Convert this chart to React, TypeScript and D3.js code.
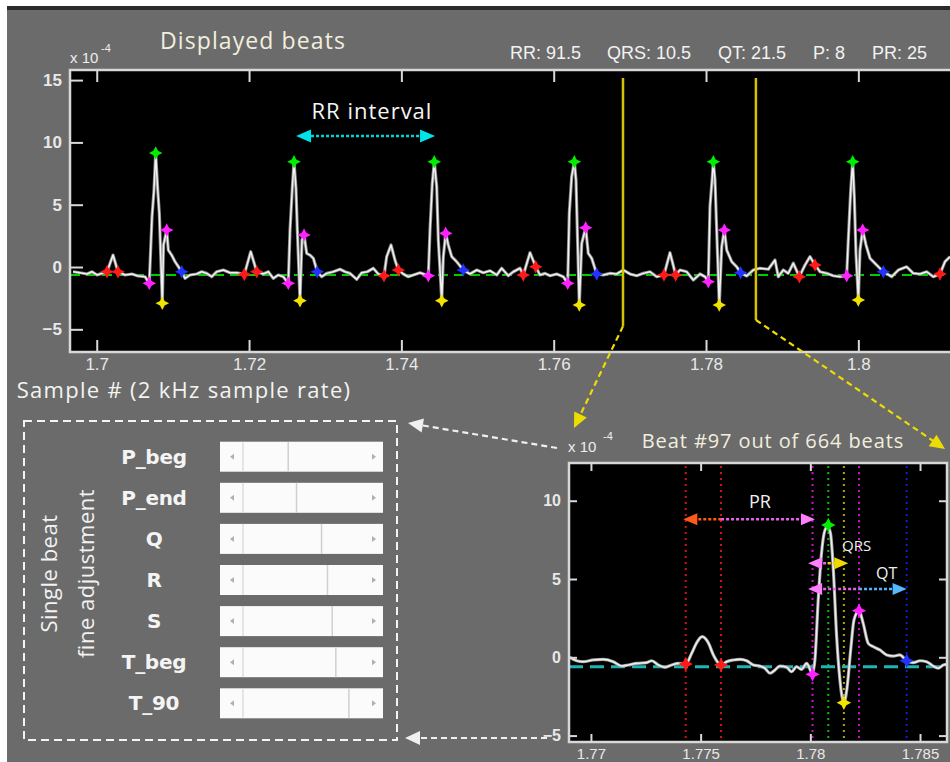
import * as d3 from "d3";
import { useRef, useEffect } from "react";

// ---------- data ----------
// displayed beats: [sample #, amplitude (x 1e-4)]
const displayedTrace = [
  [169689, -0.38], [169780, -0.46], [169872, -0.56], [169938, -0.38], [170004, -0.64], [170069, -0.51],
  [170135, -0.38], [170214, 0.96], [170279, -0.38], [170371, -0.64], [170463, -0.56], [170542, -0.72],
  [170634, -0.78], [170690, -1.31], [170726, 4.04], [170752, 6.18], [170774, 9.15], [170801, 6.18],
  [170822, 4.31], [170861, -2.91], [170877, 1.77], [170919, 2.97], [170940, 1.36], [170984, 0.96],
  [171028, 0.43], [171116, -0.38], [171159, -0.91], [171225, -0.64], [171313, -0.56], [171378, -0.38],
  [171444, -0.51], [171510, -0.78], [171575, -0.38], [171662, -0.24], [171750, -0.46], [171838, -0.46],
  [171938, -0.59], [172022, 1.23], [172101, -0.38], [172187, -0.56], [172253, -0.38], [172318, -0.91],
  [172384, -0.64], [172450, -0.78], [172515, -1.31], [172538, 2.97], [172568, 6.34], [172590, 8.45],
  [172616, 6.34], [172634, 2.97], [172669, -2.7], [172695, 2.17], [172722, 2.57], [172757, 1.1],
  [172800, 0.96], [172844, 0.7], [172896, -0.38], [172954, -0.78], [173020, -0.51], [173106, -0.38],
  [173194, -0.18], [173260, -0.38], [173326, -0.51], [173414, -0.99], [173479, -0.46], [173553, -0.38],
  [173631, -0.1], [173697, -0.56], [173772, -0.7], [173807, 0.83], [173864, 1.77], [173916, 0.56],
  [173960, -0.24], [174025, -0.56], [174091, -0.78], [174157, -0.64], [174245, -0.46], [174354, -0.7],
  [174376, 2.97], [174406, 6.72], [174432, 8.45], [174464, 6.44], [174485, 2.17], [174530, -2.7],
  [174551, 0.83], [174582, 2.7], [174616, 1.77], [174661, 0.83], [174726, 0.43], [174813, -0.24],
  [174901, -0.56], [174989, -0.24], [175076, -0.46], [175164, -0.3], [175252, -0.64], [175317, -0.1],
  [175404, -0.7], [175470, -0.38], [175558, -0.1], [175601, -0.64], [175689, 1.15], [175764, 0.02],
  [175820, -0.64], [175886, -0.51], [175952, -0.7], [176040, -0.56], [176126, -0.78], [176184, -1.31],
  [176205, 4.31], [176236, 7.25], [176271, 8.45], [176293, 6.98], [176310, 2.97], [176336, -3.05],
  [176368, 1.9], [176420, 3.15], [176454, 1.1], [176499, 0.7], [176565, -0.56], [176651, -0.64],
  [176739, -0.51], [176827, -0.56], [176914, -0.24], [177002, -0.56], [177090, -0.7], [177176, -0.51],
  [177264, -0.38], [177352, -0.78], [177448, -0.64], [177527, 1.15], [177602, -0.64], [177658, -0.24],
  [177746, -0.38], [177833, -1.04], [177921, -0.56], [177987, -0.78], [178030, -1.18], [178052, 4.84],
  [178083, 7.25], [178096, 8.45], [178118, 6.98], [178140, 2.97], [178174, -3.05], [178206, 1.63],
  [178240, 2.97], [178272, 1.36], [178337, 0.43], [178403, 0.02], [178455, -0.46], [178534, -0.72],
  [178621, -0.24], [178709, -0.1], [178818, -0.18], [178906, 0.56], [178949, -0.78], [179015, -0.24],
  [179080, -0.51], [179146, 0.3], [179225, -0.78], [179300, 0.16], [179365, 0.83], [179431, 0.16],
  [179497, -0.38], [179585, -0.51], [179671, -0.7], [179759, -0.78], [179847, -0.7], [179868, 2.17],
  [179900, 6.18], [179926, 8.45], [179947, 5.64], [179969, 1.1], [180000, -2.65], [180022, 1.36],
  [180057, 2.97], [180101, 1.77], [180153, 0.7], [180241, 0.16], [180328, -0.38], [180438, -0.78],
  [180525, -0.24], [180635, 0.02], [180722, -0.51], [180810, -0.56], [180898, -0.38], [180984, -0.78],
  [181072, -0.56], [181138, 0.43], [181204, 0.83],
];

// fiducial points found on the displayed beats
const pPoints = [
  [170135, -0.38], [170279, -0.38], [171938, -0.59], [172101, -0.38], [173772, -0.7], [173960, -0.24],
  [175601, -0.64], [175764, 0.02], [177448, -0.64], [177602, -0.64], [179225, -0.78], [179431, 0.16],
  [181072, -0.56],
];
const qPoints = [[170690, -1.31], [172515, -1.31], [174354, -0.7], [176184, -1.31], [178030, -1.18], [179847, -0.7]];
const rPoints = [[170774, 9.15], [172590, 8.45], [174432, 8.45], [176271, 8.45], [178096, 8.45], [179926, 8.45]];
const sPoints = [[170861, -2.91], [172669, -2.7], [174530, -2.7], [176336, -3.05], [178174, -3.05], [180000, -2.65]];
const tPoints = [[170919, 2.97], [172722, 2.57], [174582, 2.7], [176420, 3.15], [178240, 2.97], [180057, 2.97]];
const tEndPoints = [[171116, -0.38], [172896, -0.38], [174813, -0.24], [176565, -0.56], [178455, -0.46], [180328, -0.38]];
const topBaseline = -0.65;

const topXTicks = [170000, 172000, 174000, 176000, 178000, 180000];
const topXTickLabels = ["1.7", "1.72", "1.74", "1.76", "1.78", "1.8"];
const topYTicks = [-5, 0, 5, 10, 15];

// RR interval annotation: from, to, level
const rrArrow = [172617, 174442, 10.51];
const rrLabel = [173614, 11.88];
// beat shown below (yellow cursors) and where the cursor lines stop
const beatWindow = [176910, 178655];
const cursorBottom = [-4.75, -4.25];

const statLabels = ["RR: 91.5", "QRS: 10.5", "QT: 21.5", "P: 8", "PR: 25"];

// beat #97 in detail
const beatTrace = [
  [176904, 0.0], [176935, -0.22], [176965, -0.28], [177011, -0.17], [177056, -0.13], [177102, -0.28],
  [177140, -0.56], [177170, -0.49], [177208, -0.39], [177254, -0.34], [177277, -0.22], [177307, -0.49],
  [177337, -0.64], [177368, -0.49], [177398, -0.39], [177432, -0.43], [177459, 0.25], [177482, 0.93],
  [177507, 1.32], [177535, 0.93], [177558, 0.15], [177593, -0.49], [177618, -0.28], [177649, -0.17],
  [177679, -0.13], [177710, -0.22], [177740, -0.49], [177770, -0.56], [177793, -0.7], [177816, -1.02],
  [177839, -0.81], [177861, -0.56], [177892, -0.64], [177915, -0.92], [177937, -0.6], [177960, -0.77],
  [177983, -0.39], [178010, -1.02], [178021, -0.17], [178036, 3.66], [178051, 6.64], [178067, 8.13],
  [178079, 8.34], [178092, 7.92], [178105, 5.57], [178120, 1.32], [178135, -1.45], [178153, -2.9],
  [178168, -1.88], [178184, 0.47], [178199, 2.38], [178222, 2.98], [178241, 2.17], [178264, 0.89],
  [178287, 0.68], [178317, 0.47], [178348, 0.15], [178378, 0.08], [178408, 0.15], [178439, -0.22],
  [178469, -0.34], [178500, -0.22], [178530, -0.28], [178560, -0.56], [178583, -0.7], [178606, -0.49],
  [178624, -0.45],
];
const beatP = [[177432, -0.43], [177593, -0.49]];
const beatQ = [[178010, -1.09]];
const beatR = [[178082, 8.45]];
const beatS = [[178153, -2.9]];
const beatT = [[178222, 2.98]];
const beatTEnd = [[178439, -0.22]];
const beatBaseline = -0.6;

const lowXTicks = [177000, 177500, 178000, 178500];
const lowXTickLabels = ["1.77", "1.775", "1.78", "1.785"];
const lowYTicks = [-5, 0, 5, 10];

// interval arrows in the beat view: from, split, to, level
const prArrow = [177421, 177593, 178021, 8.81];
const qrsArrow = [177990, 178080, 178173, 6.0];
const qtArrow = [177990, 178222, 178439, 4.36];
const prLabel = [177770, 9.53];
const qrsLabel = [178211, 6.79];
const qtLabel = [178348, 5.0];

const sliderNames = ["P_beg", "P_end", "Q", "R", "S", "T_beg", "T_90"];
const sliderValues = [0.38, 0.45, 0.66, 0.71, 0.75, 0.78, 0.89];

const BG = "#6b6b6b";
const CREAM = "#f2efdf";
const LINE = "#d8d8d8";
const TICKFONT = "Liberation Sans, Arial, sans-serif";
const TEXTFONT = "Open Sans, sans-serif";

// 4-point star marker like the MATLAB plot
const star4 = {
  draw(ctx, size) {
    const r = Math.sqrt(size);
    const k = r * 0.34;
    ctx.moveTo(0, -r);
    ctx.lineTo(k, -k);
    ctx.lineTo(r, 0);
    ctx.lineTo(k, k);
    ctx.lineTo(0, r);
    ctx.lineTo(-k, k);
    ctx.lineTo(-r, 0);
    ctx.lineTo(-k, -k);
    ctx.closePath();
  },
};

function head(g, x1, y1, x2, y2, len, half, color) {
  const d = Math.hypot(x2 - x1, y2 - y1);
  const ux = (x2 - x1) / d, uy = (y2 - y1) / d;
  const bx = x2 - ux * len, by = y2 - uy * len;
  g.append("path")
    .attr("d", `M${x2},${y2}L${bx - uy * half},${by + ux * half}L${bx + uy * half},${by - ux * half}Z`)
    .attr("fill", color);
}

function App() {
  const svgRef = useRef(null);

  useEffect(() => {
    const svg = d3.select(svgRef.current);
    svg.selectAll("*").remove();

    svg.append("rect").attr("width", 950).attr("height", 762).attr("fill", "#fff");
    svg.append("rect").attr("x", 7).attr("y", 7).attr("width", 943).attr("height", 755).attr("fill", BG);
    svg.append("rect").attr("x", 7).attr("y", 6).attr("width", 943).attr("height", 4).attr("fill", "#2b2b2b");

    const defs = svg.append("defs");

    // ===== top panel: displayed beats =====
    const xTop = d3.scaleLinear().domain([169649, 181860]).range([70, 1000]);
    const yTop = d3.scaleLinear().domain([-6.82, 15.81]).range([352, 70]);
    const [tx0, tx1] = xTop.range();
    const [ty0, ty1] = [yTop.range()[1], yTop.range()[0]];

    defs.append("clipPath").attr("id", "clipTop")
      .append("rect").attr("x", tx0).attr("y", ty0).attr("width", tx1 - tx0).attr("height", ty1 - ty0);

    const top = svg.append("g");
    top.append("rect").attr("x", tx0).attr("y", ty0).attr("width", tx1 - tx0).attr("height", ty1 - ty0).attr("fill", "#000");
    const topIn = top.append("g").attr("clip-path", "url(#clipTop)");

    topIn.append("line")
      .attr("x1", tx0).attr("x2", tx1).attr("y1", yTop(topBaseline)).attr("y2", yTop(topBaseline))
      .attr("stroke", "#00cc00").attr("stroke-width", 2).attr("stroke-dasharray", "10 6");

    const lineTop = d3.line().x((d) => xTop(d[0])).y((d) => yTop(d[1]));
    topIn.append("path").attr("d", lineTop(displayedTrace)).attr("fill", "none")
      .attr("stroke", "#8a8a8a").attr("stroke-width", 3.2).attr("stroke-linejoin", "round");
    topIn.append("path").attr("d", lineTop(displayedTrace)).attr("fill", "none")
      .attr("stroke", "#f2f2f2").attr("stroke-width", 1.5).attr("stroke-linejoin", "round");

    const sym = d3.symbol().type(star4).size(46);
    const markerSets = [
      [pPoints, "#ff1a1a"], [qPoints, "#ff22ff"], [rPoints, "#00ee00"],
      [sPoints, "#f2e200"], [tPoints, "#ff22ff"], [tEndPoints, "#2233ff"],
    ];
    markerSets.forEach(([pts, color]) => {
      topIn.append("g").selectAll("path").data(pts).join("path")
        .attr("d", sym)
        .attr("transform", (d) => `translate(${xTop(d[0])},${yTop(d[1])})`)
        .attr("fill", color);
    });

    // RR interval arrow
    const rrY = yTop(rrArrow[2]);
    topIn.append("line")
      .attr("x1", xTop(rrArrow[0]) + 10).attr("x2", xTop(rrArrow[1]) - 10).attr("y1", rrY).attr("y2", rrY)
      .attr("stroke", "#00d8d8").attr("stroke-width", 2.5).attr("stroke-dasharray", "3 2");
    head(topIn, xTop(rrArrow[1]), rrY, xTop(rrArrow[0]), rrY, 15, 6.5, "#00e4e8");
    head(topIn, xTop(rrArrow[0]), rrY, xTop(rrArrow[1]), rrY, 15, 6.5, "#00e4e8");
    topIn.append("text").attr("x", xTop(rrLabel[0])).attr("y", yTop(rrLabel[1]))
      .attr("text-anchor", "middle").attr("fill", "#f5f5f5")
      .attr("font-family", TEXTFONT).attr("font-size", 22).attr("letter-spacing", 1).text("RR interval");

    // axes frame + ticks
    const styleAxis = (g, size) => {
      g.select(".domain").remove();
      g.selectAll("line").attr("stroke", LINE).attr("stroke-width", 2);
      g.selectAll("text").attr("fill", "#e8e8e8").attr("font-family", TICKFONT).attr("font-size", size);
    };
    const tb = top.append("g").attr("transform", `translate(0,${ty1})`)
      .call(d3.axisBottom(xTop).tickValues(topXTicks).tickFormat((d, i) => topXTickLabels[i]).tickSize(-12).tickSizeOuter(0).tickPadding(6));
    styleAxis(tb, 17);
    const tt = top.append("g").attr("transform", `translate(0,${ty0})`)
      .call(d3.axisTop(xTop).tickValues(topXTicks).tickFormat(() => "").tickSize(-12).tickSizeOuter(0));
    styleAxis(tt, 17);
    const tl = top.append("g").attr("transform", `translate(${tx0},0)`)
      .call(d3.axisLeft(yTop).tickValues(topYTicks).tickSize(-13).tickSizeOuter(0).tickPadding(8));
    styleAxis(tl, 17);
    tl.selectAll("text").attr("font-weight", "bold");
    top.append("path").attr("d", `M${tx1},${ty0}H${tx0}V${ty1}H${tx1}`)
      .attr("fill", "none").attr("stroke", LINE).attr("stroke-width", 2.5);

    // beat cursors (yellow)
    beatWindow.forEach((s, i) => {
      top.append("line")
        .attr("x1", xTop(s)).attr("x2", xTop(s))
        .attr("y1", yTop(15.17)).attr("y2", yTop(cursorBottom[i]))
        .attr("stroke", "#d6c200").attr("stroke-width", 2.5);
    });

    // scale exponent + titles
    svg.append("text").attr("x", 70).attr("y", 63).attr("fill", "#eee")
      .attr("font-family", TICKFONT).attr("font-size", 15).text("x 10");
    svg.append("text").attr("x", 101).attr("y", 52).attr("fill", "#eee")
      .attr("font-family", TICKFONT).attr("font-size", 11).text("-4");
    svg.append("text").attr("x", 253).attr("y", 49).attr("text-anchor", "middle").attr("fill", CREAM)
      .attr("font-family", TEXTFONT).attr("font-size", 23).attr("letter-spacing", 1.1).text("Displayed beats");
    const statX = [510, 607, 718, 813, 872];
    statLabels.forEach((s, i) => {
      svg.append("text").attr("x", statX[i]).attr("y", 59).attr("fill", "#f2f2f2")
        .attr("font-family", TICKFONT).attr("font-size", 18).text(s);
    });
    svg.append("text").attr("x", 184).attr("y", 398).attr("text-anchor", "middle").attr("fill", "#f4f4f0")
      .attr("font-family", TEXTFONT).attr("font-size", 22).attr("letter-spacing", 1.3)
      .text("Sample # (2 kHz sample rate)");

    // ===== lower panel: single beat =====
    const xLow = d3.scaleLinear().domain([176900, 178623]).range([569, 947]);
    const yLow = d3.scaleLinear().domain([-5.41, 12.41]).range([742, 463]);
    const [lx0, lx1] = xLow.range();
    const [ly0, ly1] = [yLow.range()[1], yLow.range()[0]];

    defs.append("clipPath").attr("id", "clipLow")
      .append("rect").attr("x", lx0).attr("y", ly0).attr("width", lx1 - lx0).attr("height", ly1 - ly0);

    const low = svg.append("g");
    low.append("rect").attr("x", lx0).attr("y", ly0).attr("width", lx1 - lx0).attr("height", ly1 - ly0).attr("fill", "#000");
    const lowIn = low.append("g").attr("clip-path", "url(#clipLow)");

    const vlines = [
      [beatP, "#d01414"], [beatQ, "#c414c4"], [beatR, "#14b414"],
      [beatS, "#b4a400"], [beatT, "#c414c4"], [beatTEnd, "#1818d8"],
    ];
    vlines.forEach(([pts, color]) => {
      lowIn.append("g").selectAll("line").data(pts).join("line")
        .attr("x1", (d) => xLow(d[0])).attr("x2", (d) => xLow(d[0]))
        .attr("y1", ly0 + 3).attr("y2", ly1)
        .attr("stroke", color).attr("stroke-width", 2).attr("stroke-dasharray", "2 4");
    });

    lowIn.append("line")
      .attr("x1", lx0).attr("x2", lx1).attr("y1", yLow(beatBaseline)).attr("y2", yLow(beatBaseline))
      .attr("stroke", "#1cb4b4").attr("stroke-width", 3).attr("stroke-dasharray", "14 7");

    const lineLow = d3.line().x((d) => xLow(d[0])).y((d) => yLow(d[1])).curve(d3.curveMonotoneX);
    lowIn.append("path").attr("d", lineLow(beatTrace)).attr("fill", "none")
      .attr("stroke", "#9a9a9a").attr("stroke-width", 3.2);
    lowIn.append("path").attr("d", lineLow(beatTrace)).attr("fill", "none")
      .attr("stroke", "#eeeeee").attr("stroke-width", 1.6);

    const symL = d3.symbol().type(star4).size(52);
    const lowMarkers = [
      [beatP, "#ff1a1a"], [beatQ, "#ff22ff"], [beatR, "#00ee00"],
      [beatS, "#f2e200"], [beatT, "#ff22ff"], [beatTEnd, "#2233ff"],
    ];
    lowMarkers.forEach(([pts, color]) => {
      lowIn.append("g").selectAll("path").data(pts).join("path")
        .attr("d", symL)
        .attr("transform", (d) => `translate(${xLow(d[0])},${yLow(d[1])})`)
        .attr("fill", color);
    });

    // interval arrows
    const intervalArrow = (a, cLeft, cRight, headL, headR) => {
      const y = yLow(a[3]);
      const xa = xLow(a[0]), xm = xLow(a[1]), xb = xLow(a[2]);
      lowIn.append("line").attr("x1", xa + 10).attr("x2", xm).attr("y1", y).attr("y2", y)
        .attr("stroke", cLeft).attr("stroke-width", 2.5).attr("stroke-dasharray", "3 2");
      lowIn.append("line").attr("x1", xm).attr("x2", xb - 10).attr("y1", y).attr("y2", y)
        .attr("stroke", cRight).attr("stroke-width", 2.5).attr("stroke-dasharray", "3 2");
      head(lowIn, xb, y, xa, y, 14, 6, headL);
      head(lowIn, xa, y, xb, y, 14, 6, headR);
    };
    intervalArrow(prArrow, "#ff5a1a", "#e860e8", "#ff5a1a", "#ff80ff");
    intervalArrow(qrsArrow, "#e860e8", "#e8d000", "#ff80ff", "#f0d800");
    intervalArrow(qtArrow, "#e860e8", "#50b4ff", "#ff80ff", "#58b8ff");

    const label = (p, txt, size) => {
      lowIn.append("text").attr("x", xLow(p[0])).attr("y", yLow(p[1]))
        .attr("text-anchor", "middle").attr("fill", "#f0f0f0")
        .attr("font-family", TEXTFONT).attr("font-size", size).text(txt);
    };
    label(prLabel, "PR", 18);
    label(qrsLabel, "QRS", 15);
    label(qtLabel, "QT", 16);

    const lb = low.append("g").attr("transform", `translate(0,${ly1})`)
      .call(d3.axisBottom(xLow).tickValues(lowXTicks).tickFormat((d, i) => lowXTickLabels[i]).tickSize(-8).tickSizeOuter(0).tickPadding(6));
    styleAxis(lb, 15);
    const lt = low.append("g").attr("transform", `translate(0,${ly0})`)
      .call(d3.axisTop(xLow).tickValues(lowXTicks).tickFormat(() => "").tickSize(-8).tickSizeOuter(0));
    styleAxis(lt, 15);
    const ll = low.append("g").attr("transform", `translate(${lx0},0)`)
      .call(d3.axisLeft(yLow).tickValues(lowYTicks).tickSize(-8).tickSizeOuter(0).tickPadding(8));
    styleAxis(ll, 16);
    ll.selectAll("text").attr("font-weight", "bold");
    const lr = low.append("g").attr("transform", `translate(${lx1},0)`)
      .call(d3.axisRight(yLow).tickValues(lowYTicks).tickFormat(() => "").tickSize(-8).tickSizeOuter(0));
    styleAxis(lr, 16);
    low.append("rect").attr("x", lx0).attr("y", ly0).attr("width", lx1 - lx0).attr("height", ly1 - ly0)
      .attr("fill", "none").attr("stroke", LINE).attr("stroke-width", 2.5);

    svg.append("text").attr("x", lx0 - 1).attr("y", ly0 - 11).attr("fill", "#eee")
      .attr("font-family", TICKFONT).attr("font-size", 15).text("x 10");
    svg.append("text").attr("x", lx0 + 34).attr("y", ly0 - 23).attr("fill", "#eee")
      .attr("font-family", TICKFONT).attr("font-size", 11).text("-4");
    svg.append("text").attr("x", (lx0 + lx1) / 2 + 15).attr("y", ly0 - 15).attr("text-anchor", "middle").attr("fill", CREAM)
      .attr("font-family", TEXTFONT).attr("font-size", 20).attr("letter-spacing", 0.9)
      .text("Beat #97 out of 664 beats");

    // ===== slider panel =====
    const panel = { x0: 24, y0: 421, x1: 397, y1: 740 };
    svg.append("rect").attr("x", panel.x0).attr("y", panel.y0)
      .attr("width", panel.x1 - panel.x0).attr("height", panel.y1 - panel.y0)
      .attr("fill", "none").attr("stroke", "#f4f4f4").attr("stroke-width", 2).attr("stroke-dasharray", "8 5");

    const midY = (panel.y0 + panel.y1) / 2 - 7;
    svg.append("text").attr("transform", `translate(57,${midY}) rotate(-90)`)
      .attr("text-anchor", "middle").attr("fill", "#f2f2f2")
      .attr("font-family", TEXTFONT).attr("font-size", 22).attr("letter-spacing", 0.5).text("Single beat");
    svg.append("text").attr("transform", `translate(94,${midY}) rotate(-90)`)
      .attr("text-anchor", "middle").attr("fill", "#f2f2f2")
      .attr("font-family", TEXTFONT).attr("font-size", 22).attr("letter-spacing", 0.5).text("fine adjustment");

    const rowY = d3.scalePoint().domain(sliderNames).range([456.7, 703.3]);
    const sliderX = d3.scaleLinear().domain([0, 1]).range([243, 362]);
    const rows = svg.append("g").selectAll("g").data(sliderNames).join("g")
      .attr("transform", (d) => `translate(0,${rowY(d)})`);
    rows.append("text").attr("x", 154).attr("y", 7).attr("text-anchor", "middle")
      .attr("fill", "#f4f4f4").attr("font-family", "DejaVu Sans, sans-serif")
      .attr("font-weight", "bold").attr("font-size", 20).attr("letter-spacing", -0.3).text((d) => d);
    rows.append("rect").attr("x", 220).attr("y", -15).attr("width", 163).attr("height", 30).attr("fill", "#fbfbfb");
    rows.append("line").attr("x1", 243).attr("x2", 243).attr("y1", -15).attr("y2", 15)
      .attr("stroke", "#d8d8d8").attr("stroke-width", 1.2);
    rows.append("line")
      .attr("x1", (d, i) => sliderX(sliderValues[i])).attr("x2", (d, i) => sliderX(sliderValues[i]))
      .attr("y1", -15).attr("y2", 15).attr("stroke", "#d0d0d0").attr("stroke-width", 1.5);
    rows.append("path").attr("d", "M230,0L234,-3L234,3Z").attr("fill", "#b0b0b0");
    rows.append("path").attr("d", "M376,0L372,-3L372,3Z").attr("fill", "#b0b0b0");

    // ===== connectors =====
    const dashed = (x1, y1, x2, y2, color) => {
      const d = Math.hypot(x2 - x1, y2 - y1);
      const ux = (x2 - x1) / d, uy = (y2 - y1) / d;
      svg.append("line").attr("x1", x1).attr("y1", y1).attr("x2", x2 - ux * 10).attr("y2", y2 - uy * 10)
        .attr("stroke", color).attr("stroke-width", 2.2).attr("stroke-dasharray", "6 4");
      head(svg, x1, y1, x2, y2, 15, 7, color);
    };
    dashed(xTop(beatWindow[0]), yTop(cursorBottom[0]), lx0 + 5, ly0 - 35, "#ecdc00");
    dashed(xTop(beatWindow[1]), yTop(cursorBottom[1]), lx1 - 2, ly0 - 14, "#ecdc00");
    dashed(lx0 - 12, ly0 - 15, panel.x1 + 11, panel.y0 + 2, "#f0f0f0");
    dashed(lx0 - 22, panel.y1 - 2, panel.x1 + 8, panel.y1 - 2, "#f0f0f0");
  }, []);

  return (
    <svg ref={svgRef} width={950} height={762}
      style={{ position: "absolute", left: 0, top: 0, display: "block" }} />
  );
}

export default App;
